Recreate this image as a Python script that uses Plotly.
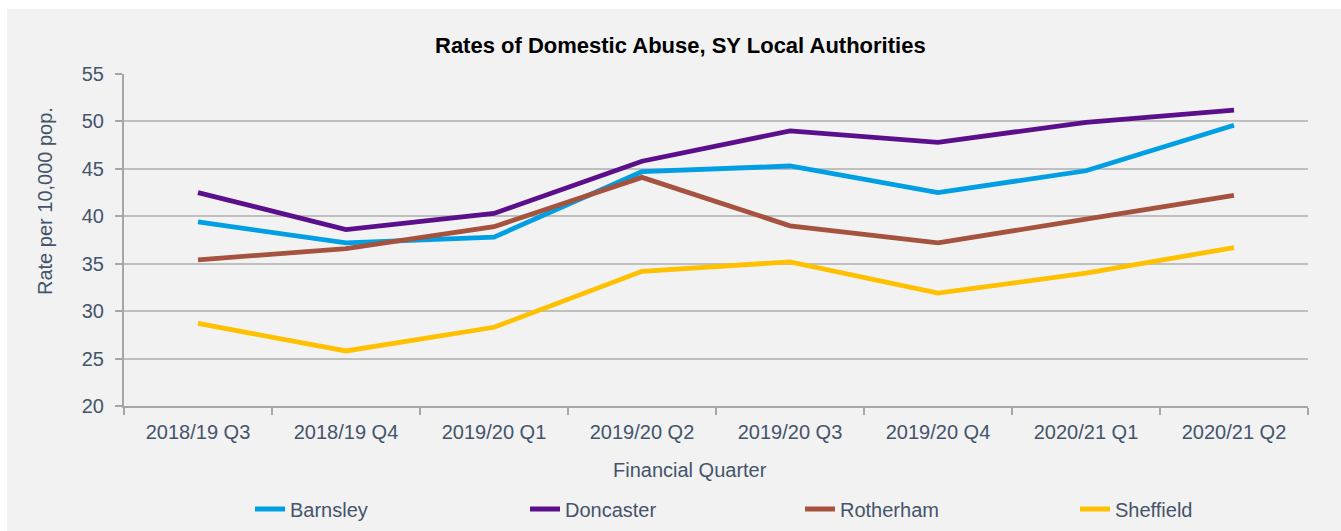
import plotly.graph_objects as go

quarters = ["2018/19 Q3", "2018/19 Q4", "2019/20 Q1", "2019/20 Q2",
            "2019/20 Q3", "2019/20 Q4", "2020/21 Q1", "2020/21 Q2"]
barnsley = [39.4, 37.2, 37.8, 44.7, 45.3, 42.5, 44.8, 49.6]
doncaster = [42.5, 38.6, 40.3, 45.8, 49.0, 47.8, 49.9, 51.2]
rotherham = [35.4, 36.6, 38.9, 44.1, 39.0, 37.2, 39.7, 42.2]
sheffield = [28.7, 25.8, 28.3, 34.2, 35.2, 31.9, 34.0, 36.7]

series_names = ["Barnsley", "Doncaster", "Rotherham", "Sheffield"]
series_values = [barnsley, doncaster, rotherham, sheffield]
colors = ["#009fe3", "#5c0f8b", "#a5523f", "#ffc000"]

TEXT = "#44546a"
FONT = "Liberation Sans, Arial, sans-serif"

W, H = 1341, 531
L, R, T, B = 124, 33, 74, 125
pw, ph = W - L - R, H - T - B

def px_x(x):
    return (x - L) / pw

def px_y(y):
    return (H - B - y) / ph

fig = go.Figure()
for name, vals, c in zip(series_names, series_values, colors):
    fig.add_trace(go.Scatter(x=quarters, y=vals, mode="lines", name=name,
                             line=dict(color=c, width=4.8)))

fig.update_layout(
    width=W, height=H,
    margin=dict(l=L, r=R, t=T, b=B, pad=0, autoexpand=False),
    paper_bgcolor="white",
    plot_bgcolor="#f2f2f2",
    font=dict(family=FONT, color=TEXT, size=20),
    showlegend=True,
    legend=dict(orientation="h", x=px_x(800), xanchor="center",
                y=px_y(509), yanchor="middle",
                bgcolor="rgba(0,0,0,0)", font=dict(size=20, color=TEXT),
                entrywidth=230, entrywidthmode="pixels",
                itemwidth=30, tracegroupgap=0),
    xaxis=dict(showgrid=False, showline=True, linecolor="#a6a6a6", linewidth=2,
               ticks="outside", tickson="boundaries", ticklen=7, tickwidth=2,
               tickcolor="#a6a6a6", tickfont=dict(size=20, color=TEXT),
               ticklabelstandoff=7, range=[-0.5, 7.5], fixedrange=True),
    yaxis=dict(range=[20, 55], dtick=5, showgrid=True, gridcolor="#bfbfbf",
               gridwidth=2, showline=True, linecolor="#a6a6a6", linewidth=2,
               ticks="outside", ticklen=7, tickwidth=2, tickcolor="#a6a6a6",
               tickfont=dict(size=20, color=TEXT), ticklabelstandoff=7,
               zeroline=False, fixedrange=True),
    shapes=[dict(type="rect", xref="paper", yref="paper", layer="below",
                 x0=px_x(7), x1=px_x(W + 5), y0=px_y(H + 5), y1=px_y(9),
                 fillcolor="#f2f2f2", line=dict(width=0))],
    annotations=[
        dict(text="<b>Rates of Domestic Abuse, SY Local Authorities</b>",
             xref="paper", yref="paper", x=px_x(680), y=px_y(45),
             xanchor="center", yanchor="middle", showarrow=False,
             font=dict(size=22, color="black", family=FONT)),
        dict(text="Rate per 10,000 pop.", xref="paper", yref="paper",
             x=px_x(45), y=px_y(201), xanchor="center", yanchor="middle",
             textangle=-90, showarrow=False, font=dict(size=20, color=TEXT)),
        dict(text="Financial Quarter", xref="paper", yref="paper",
             x=px_x(690), y=px_y(470), xanchor="center", yanchor="middle",
             showarrow=False, font=dict(size=20, color=TEXT)),
    ],
)

fig.write_html("out.html",
               config={"displayModeBar": False},
               post_script="document.body.style.margin='0';document.body.style.padding='0';")
